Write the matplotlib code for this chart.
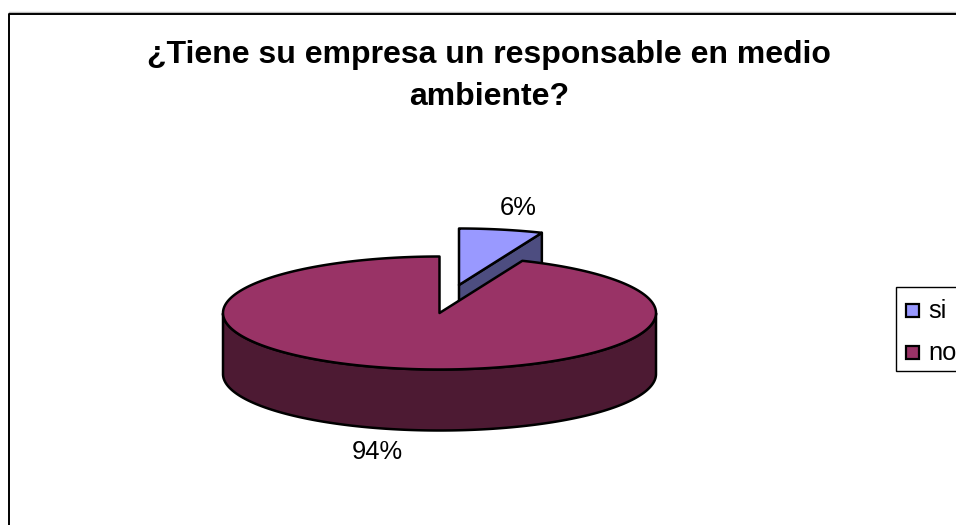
import numpy as np
import matplotlib
matplotlib.use("Agg")
import matplotlib.pyplot as plt
from matplotlib.patches import Polygon, Rectangle

categories = ["si", "no"]
values = [6.25, 93.75]
title_lines = ["¿Tiene su empresa un responsable en medio", "ambiente?"]
colors_top = ["#9999FF", "#993366"]
colors_side = ["#4D4D80", "#4D1A33"]

W, H = 956, 525
plt.rcParams["font.family"] = ["Liberation Sans", "DejaVu Sans"]
fig = plt.figure(figsize=(W / 100, H / 100), dpi=100, facecolor="white")
ax = fig.add_axes([0, 0, 1, 1])
ax.set_xlim(0, W)
ax.set_ylim(H, 0)
ax.axis("off")

# chart frame: cropped by the image on the right and at the bottom
ax.plot([9, W], [12, 12], color="#BBBBBB", lw=1.0, zorder=1)
ax.plot([W + 5, 9.5, 9.5], [13.5, 13.5, H + 5], color="black", lw=1.4, zorder=2)

for line, y in zip(title_lines, [63, 105]):
    ax.text(489, y, line, ha="center", va="baseline", fontsize=23, fontweight="bold", color="black")

# pie geometry
cx, cy = 439.5, 313.0
a, b = 216.5, 56.5
depth = 61.0
explode = (19.5, -28.0)
lw = 1.8


def rim(theta, dx=0.0, dy=0.0):
    """theta clockwise from 12 o'clock, degrees."""
    t = np.radians(theta)
    return np.column_stack([cx + dx + a * np.sin(t), cy + dy - b * np.cos(t)])


sweeps = np.array(values) / sum(values) * 360.0

# "si" slice, pulled out from the pie
th = np.linspace(0, sweeps[0], 60)
top = rim(th, *explode)
apex = np.array([cx + explode[0], cy + explode[1]])
end = top[-1]
ax.add_patch(Polygon([apex, end, end + [0, depth], apex + [0, depth]], closed=True,
                     facecolor=colors_side[0], edgecolor="black", lw=lw, joinstyle="round", zorder=3))
ax.add_patch(Polygon(np.vstack([apex, top]), closed=True,
                     facecolor=colors_top[0], edgecolor="black", lw=lw, joinstyle="round", zorder=4))

# "no" slice
th = np.linspace(sweeps[0], 360, 400)
top = rim(th)
front = top[(th >= 90) & (th <= 270)]
side = np.vstack([front, (front + [0, depth])[::-1]])
ax.add_patch(Polygon(side, closed=True, facecolor=colors_side[1], edgecolor="black",
                     lw=lw, joinstyle="round", zorder=5))
ax.add_patch(Polygon(np.vstack([[cx, cy], top]), closed=True, facecolor=colors_top[1],
                     edgecolor="black", lw=lw, joinstyle="round", zorder=6))

# data labels
label_pos = [(518, 215), (377, 459)]
for v, (x, y) in zip(values, label_pos):
    ax.text(x, y, f"{v:.0f}%", ha="center", va="baseline", fontsize=18.4, color="black", zorder=7)

# legend, cropped by the image on the right
ax.add_patch(Rectangle((896, 287), 100, 83.5, facecolor="white", edgecolor="black", lw=1.0, zorder=8))
for name, col, y in zip(categories, colors_top, [317.5, 359.5]):
    ax.add_patch(Rectangle((906, y - 14), 13.5, 13.5, facecolor=col, edgecolor="black", lw=1.6, zorder=9))
    ax.text(928, y, name, ha="left", va="baseline", fontsize=18.4, color="black", zorder=9)

fig.savefig("out.png", dpi=100, facecolor="white")
